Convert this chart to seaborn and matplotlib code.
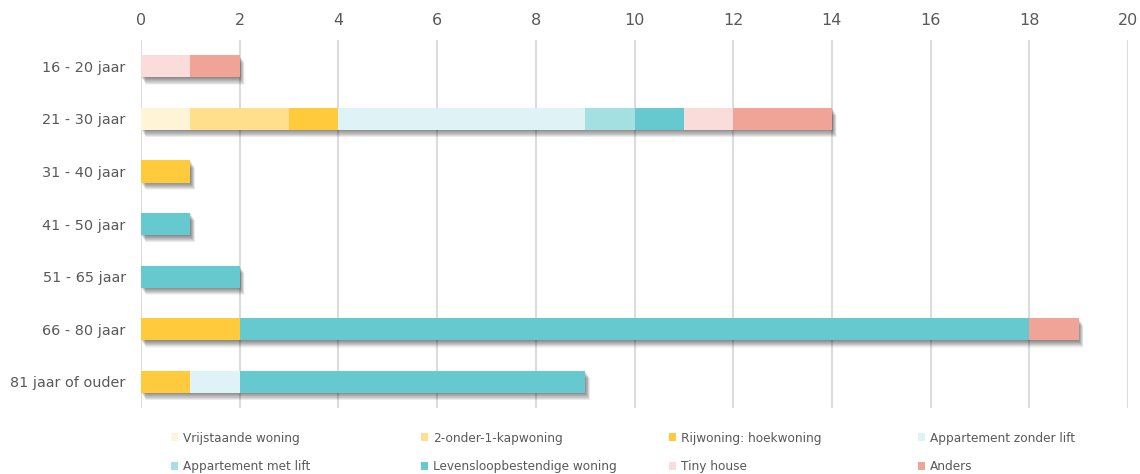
import matplotlib
matplotlib.use("Agg")
import matplotlib.pyplot as plt
import matplotlib.patheffects as pe
from matplotlib.patches import Patch
import seaborn as sns

# Age groups (rows) and number of answers per preferred dwelling type
age_groups = ["16 - 20 jaar", "21 - 30 jaar", "31 - 40 jaar", "41 - 50 jaar",
              "51 - 65 jaar", "66 - 80 jaar", "81 jaar of ouder"]
vrijstaande = [0, 1, 0, 0, 0, 0, 0]
twee_onder_een_kap = [0, 2, 0, 0, 0, 0, 0]
hoekwoning = [0, 1, 1, 0, 0, 2, 1]
app_zonder_lift = [0, 5, 0, 0, 0, 0, 1]
app_met_lift = [0, 1, 0, 0, 0, 0, 0]
levensloopbestendig = [0, 1, 0, 1, 2, 16, 7]
tiny_house = [1, 1, 0, 0, 0, 0, 0]
anders = [1, 2, 0, 0, 0, 1, 0]

series_names = ["Vrijstaande woning", "2-onder-1-kapwoning", "Rijwoning: hoekwoning",
                "Appartement zonder lift", "Appartement met lift",
                "Levensloopbestendige woning", "Tiny house", "Anders"]
series_values = [vrijstaande, twee_onder_een_kap, hoekwoning, app_zonder_lift,
                 app_met_lift, levensloopbestendig, tiny_house, anders]
colors = ["#FFF5D6", "#FFDF8C", "#FFCA3C", "#DFF3F6",
          "#A4DFE2", "#67C9D0", "#FADDDA", "#F0A497"]
x_ticks = [0, 2, 4, 6, 8, 10, 12, 14, 16, 18, 20]

sns.set_theme(style="white")
plt.rcParams["font.family"] = ["DejaVu Sans"]
text_color = "#595959"

fig = plt.figure(figsize=(11.4, 4.74), dpi=100)
ax = fig.add_axes([0.1237, 0.139, 0.8658, 0.7766])

# cumulative totals per segment, drawn from the outermost layer inwards
cumulative = []
running = [0] * len(age_groups)
for vals in series_values:
    running = [r + v for r, v in zip(running, vals)]
    cumulative.append(list(running))

# soft drop shadow: many faint copies fanning out down and to the right
shadow = [pe.SimplePatchShadow(offset=(0.2 + 0.25 * k, -0.3 - 0.38 * k),
                               shadow_rgbFace="black", alpha=0.038)
          for k in range(14)]
shadow.append(pe.Normal())

for i in reversed(range(len(series_values))):
    n_before = len(ax.patches)
    sns.barplot(x=cumulative[i], y=age_groups, orient="h", color=colors[i],
                width=0.42, saturation=1, errorbar=None, linewidth=0, ax=ax)
    if i == len(series_values) - 1:
        for p in ax.patches[n_before:]:
            p.set_path_effects(shadow)

ax.set_xlim(0, 20)
ax.set_xticks(x_ticks)
ax.xaxis.tick_top()
ax.grid(axis="x", color="#DCDCDC", linewidth=1.5)
ax.grid(axis="y", visible=False)
ax.set_axisbelow(True)
for s in ax.spines.values():
    s.set_visible(False)
ax.tick_params(axis="x", length=0, pad=8.5, labelsize=11.5, labelcolor=text_color)
ax.tick_params(axis="y", length=0, pad=11, labelsize=10.4, labelcolor=text_color)
ax.set_xlabel("")
ax.set_ylabel("")

# legend laid out in four evenly spaced columns of two entries
handles = [Patch(facecolor=c, edgecolor="none") for c in colors]
col_x = [0.1500, 0.3690, 0.5870, 0.8050]
for k, x0 in enumerate(col_x):
    idx = [k, k + 4]
    leg = fig.legend([handles[j] for j in idx], [series_names[j] for j in idx],
                     loc="upper left", bbox_to_anchor=(x0, 0.0895), frameon=False,
                     fontsize=8.7, handlelength=0.6, handleheight=0.6,
                     handletextpad=0.4, labelspacing=1.3, borderaxespad=0,
                     borderpad=0)
    for t in leg.get_texts():
        t.set_color(text_color)

fig.savefig("out.png", dpi=100)
